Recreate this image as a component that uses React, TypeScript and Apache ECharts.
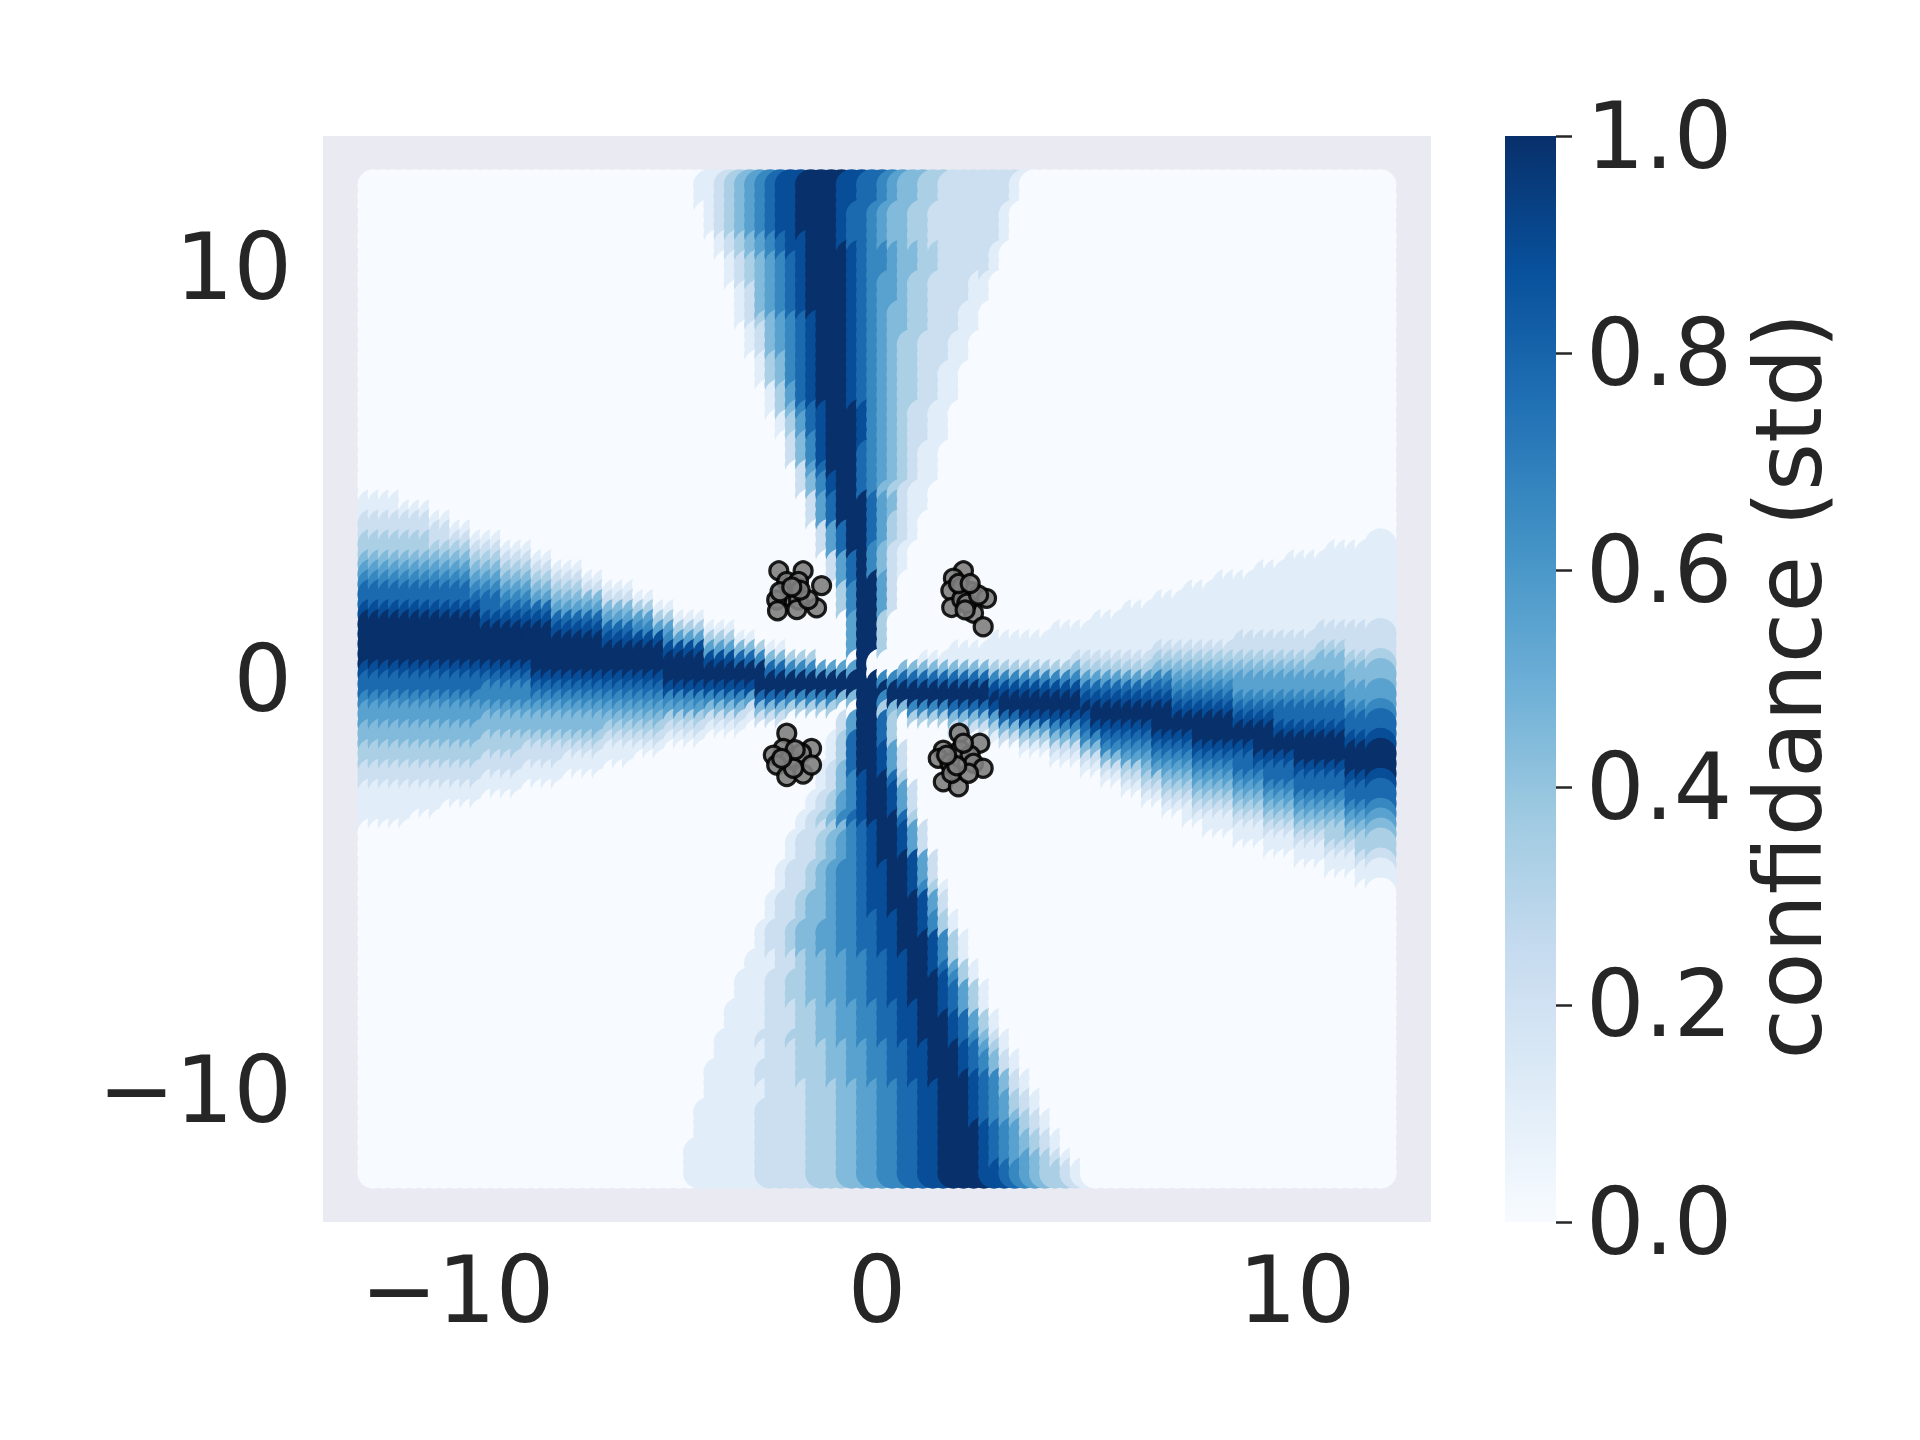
import React, { useEffect, useRef } from "react";
import * as echarts from "echarts";

// Sampling lattice of the confidence map (100 x 100 points)
const GRID_N = 100;
const GRID_MIN = -12;
const GRID_MAX = 12;
// visible overlap of drawn circles: value of a point shows one cell up-left
const OVERLAP_SHIFT = 1;

const X_TICKS = [-10, 0, 10];
const Y_TICKS = [-10, 0, 10];
const CBAR_MAX = 1;

// Blues colormap
const BLUES = ["#f7fbff", "#deebf7", "#c6dbef", "#9ecae1", "#6baed6", "#4292c6", "#2171b5", "#08519c", "#08306b"];

// Vertical band, one entry per row (top -> bottom): [first column, rising side, core, falling side]; levels 0..9
const V_ROWS: [number, string, string, string][] = [
  [32, "1123456788", "9999", "887765443322222221"],
  [32, "1123456788", "9999", "887765443322222221"],
  [33, "123456788", "9999", "87765443322222221"],
  [33, "123456788", "9999", "87765443322222221"],
  [33, "123456788", "9999", "87765443322222221"],
  [34, "123456788", "999", "87765443322222221"],
  [34, "123456788", "9999", "876654433222221"],
  [35, "12345678", "9999", "876654433222221"],
  [35, "12345678", "9999", "876654433222221"],
  [35, "12345678", "9999", "87655433222211"],
  [36, "1245678", "9999", "87655433222211"],
  [36, "1245678", "9999", "87655433222211"],
  [36, "1245678", "9999", "8765443322211"],
  [36, "12345678", "999", "8765443322211"],
  [37, "1245678", "999", "8765443322211"],
  [37, "1245678", "999", "876543322211"],
  [37, "1245678", "999", "876543322211"],
  [38, "134678", "999", "876543322211"],
  [38, "134678", "999", "87654332211"],
  [38, "134678", "999", "87654332211"],
  [39, "13578", "999", "87654332211"],
  [39, "13578", "999", "87654332211"],
  [39, "134678", "999", "865432211"],
  [40, "13578", "999", "865432211"],
  [40, "13578", "999", "865432211"],
  [41, "2468", "999", "865432211"],
  [41, "2468", "999", "76543211"],
  [41, "2468", "999", "76543211"],
  [42, "257", "999", "76543211"],
  [42, "2468", "99", "76543211"],
  [42, "2468", "99", "7643211"],
  [43, "257", "999", "754211"],
  [43, "257", "999", "754211"],
  [43, "257", "999", "75321"],
  [44, "257", "99", "75321"],
  [44, "257", "99", "75321"],
  [44, "257", "99", "6421"],
  [45, "257", "9", "6421"],
  [45, "257", "9", "6421"],
  [45, "257", "99", "52"],
  [46, "36", "99", "52"],
  [46, "36", "99", "52"],
  [46, "36", "99", "52"],
  [47, "5", "99", "3"],
  [47, "5", "99", "3"],
  [47, "5", "99", "3"],
  [47, "5", "99", "3"],
  [48, "", "9", ""],
  [48, "", "9", ""],
  [48, "", "99", ""],
  [48, "", "99", ""],
  [48, "", "99", ""],
  [48, "", "99", ""],
  [46, "25", "99", "73"],
  [46, "25", "99", "73"],
  [45, "137", "99", "73"],
  [45, "137", "99", "852"],
  [45, "137", "99", "852"],
  [44, "1247", "99", "852"],
  [44, "12468", "99", "73"],
  [44, "12468", "99", "852"],
  [43, "123568", "99", "852"],
  [43, "123568", "99", "852"],
  [42, "1234678", "999", "73"],
  [42, "12234678", "99", "852"],
  [41, "122345678", "99", "852"],
  [41, "122345678", "99", "852"],
  [41, "122345678", "999", "852"],
  [40, "12234566788", "99", "852"],
  [40, "12234566788", "99", "852"],
  [40, "12234566788", "99", "8631"],
  [39, "122344566788", "999", "852"],
  [39, "122344566788", "999", "852"],
  [39, "1223445667788", "99", "8631"],
  [38, "12234455667788", "99", "8631"],
  [38, "12234455667788", "999", "8631"],
  [38, "12234455667788", "999", "8631"],
  [37, "1112234455667788", "99", "8631"],
  [37, "1112234455667788", "99", "87531"],
  [36, "11122334455667788", "999", "8631"],
  [36, "11122334455667788", "999", "87531"],
  [36, "11122334455667788", "999", "87531"],
  [35, "1111222334455667788", "99", "87531"],
  [35, "1111222334455667788", "999", "87531"],
  [35, "1111222334455667788", "999", "87531"],
  [34, "11112223334455667788", "999", "876421"],
  [34, "111112223334455667788", "999", "87531"],
  [34, "111112223334455667788", "999", "876421"],
  [33, "1111122223334455667788", "999", "876421"],
  [33, "1111122223334455667788", "9999", "876421"],
  [33, "11111122223334455667788", "999", "876421"],
  [33, "11111122223334455667788", "999", "8765321"],
  [32, "111111222223334455667788", "999", "8765321"],
  [32, "111111222223334455667788", "999", "87654321"],
  [32, "111111222223334455667788", "9999", "8765321"],
  [32, "111111222223334455667788", "9999", "87654321"],
  [31, "1111111222223334455667788", "9999", "87654321"],
  [31, "1111111222223334455667788", "9999", "876554321"],
  [31, "1111111222223334455667788", "9999", "8876543321"],
  [31, "1111111222223334455667788", "9999", "88765543321"],
];

// Horizontal band, one entry per column (left -> right): [first row, pale plateau, rising side, core, falling side]
const H_COLS: [number, string, string, string, string][] = [
  [31, "", "112233456778", "99999", "8776554433221111"],
  [31, "", "112233456778", "99999", "8776554433221111"],
  [31, "", "112233456778", "99999", "8776554433221111"],
  [32, "", "12233456778", "99999", "8776554433221111"],
  [32, "", "12233456778", "99999", "877655443322111"],
  [32, "", "12233456778", "99999", "877655443322111"],
  [33, "", "1223456778", "99999", "877655443322111"],
  [33, "", "1223456778", "99999", "87765544332211"],
  [34, "", "123456778", "99999", "87765544332211"],
  [34, "", "123456778", "99999", "87765544332211"],
  [35, "", "12345678", "99999", "87765544332211"],
  [35, "", "123456778", "9999", "8766544332211"],
  [35, "", "123456778", "9999", "8766544332211"],
  [36, "", "12345678", "9999", "8766544332211"],
  [36, "", "12345678", "9999", "8766544332211"],
  [36, "", "12345678", "9999", "876654432211"],
  [37, "", "1234578", "99999", "87654432211"],
  [37, "", "1234578", "99999", "87654432211"],
  [38, "", "1234578", "9999", "87654432211"],
  [38, "", "1234578", "9999", "8765443211"],
  [38, "", "1234578", "9999", "8765443211"],
  [39, "", "124578", "9999", "8765443211"],
  [39, "", "124578", "9999", "8765443211"],
  [40, "", "124578", "999", "876543211"],
  [40, "", "124578", "999", "876543211"],
  [40, "", "124578", "999", "876543211"],
  [41, "", "13568", "999", "87654321"],
  [41, "", "13568", "999", "87654321"],
  [42, "", "1358", "999", "87654321"],
  [42, "", "13568", "999", "865321"],
  [43, "", "1358", "999", "865321"],
  [43, "", "1358", "999", "865321"],
  [43, "", "1358", "999", "865321"],
  [44, "", "1358", "99", "86421"],
  [44, "", "1358", "99", "86421"],
  [44, "", "1358", "99", "86421"],
  [45, "", "147", "99", "86421"],
  [45, "", "147", "99", "8521"],
  [46, "", "36", "999", "742"],
  [46, "", "147", "99", "742"],
  [46, "", "147", "99", "742"],
  [47, "", "36", "99", "63"],
  [47, "", "36", "99", "63"],
  [47, "", "36", "99", "63"],
  [48, "", "5", "99", "63"],
  [48, "", "5", "99", "63"],
  [48, "", "5", "99", "4"],
  [48, "", "5", "99", "4"],
  [49, "", "", "999", ""],
  [50, "", "", "99", ""],
  [49, "", "6", "9", "63"],
  [49, "", "6", "99", "4"],
  [48, "", "47", "99", "4"],
  [48, "", "47", "99", "63"],
  [47, "1", "47", "99", "63"],
  [47, "1", "47", "99", "63"],
  [47, "1", "47", "99", "63"],
  [46, "11", "47", "99", "742"],
  [46, "11", "47", "99", "742"],
  [46, "11", "47", "99", "742"],
  [46, "11", "47", "99", "742"],
  [45, "111", "368", "9", "8531"],
  [45, "111", "368", "99", "742"],
  [45, "111", "368", "99", "742"],
  [45, "111", "368", "99", "8531"],
  [45, "111", "368", "99", "8531"],
  [45, "111", "368", "99", "8531"],
  [44, "1111", "368", "99", "86421"],
  [44, "1111", "368", "99", "86421"],
  [44, "111", "2468", "99", "86421"],
  [44, "111", "23578", "9", "876421"],
  [43, "1111", "23578", "99", "86421"],
  [43, "1111", "23578", "99", "876421"],
  [43, "1111", "23578", "99", "876421"],
  [42, "11111", "23578", "99", "8765321"],
  [42, "11111", "23578", "99", "8765321"],
  [42, "11111", "23578", "99", "87654321"],
  [41, "11111", "234678", "999", "8765321"],
  [41, "11111", "234678", "999", "87654321"],
  [41, "11111", "2345678", "99", "87654321"],
  [40, "111111", "2345678", "99", "876543211"],
  [40, "111111", "2345678", "999", "87654321"],
  [40, "111111", "2345678", "999", "876543211"],
  [39, "1111111", "2345678", "999", "876543211"],
  [39, "1111111", "2345678", "999", "876543211"],
  [39, "111111", "223455678", "99", "8776543211"],
  [39, "111111", "223455678", "99", "8776543211"],
  [38, "1111111", "223455678", "999", "876543211"],
  [38, "1111111", "223455678", "999", "8776543211"],
  [38, "1111111", "2234556778", "99", "8776543211"],
  [37, "11111111", "2234556778", "99", "8776543211"],
  [37, "11111111", "2234556778", "999", "8776543211"],
  [37, "11111111", "2234556778", "999", "8776543211"],
  [37, "1111111", "22344556778", "999", "8776543211"],
  [36, "11111111", "22344556778", "999", "87765433211"],
  [36, "11111111", "22344556778", "999", "87765433211"],
  [36, "11111111", "222344556778", "999", "8776543211"],
  [36, "11111111", "222344556778", "999", "87765433211"],
  [35, "111111111", "222344556778", "999", "87765433211"],
  [35, "111111111", "222344556778", "999", "87765433211"],
];

// Training points (four clusters)
const TRAIN_X = [
  -2.34, -1.76, -1.32, -2.15, -1.87, -2.07, -1.87, -2.39, -1.44, -2.37, -1.91, -1.64, -2.31, -1.83, -2.03,
  2.06, 1.82, 1.76, 2.02, 2.26, 2.61, 1.78, 2.02, 2.3, 2.53, 2.14, 2.42, 1.94, 2.22, 2.1,
  -2.15, -1.56, -2.23, -2.47, -2.07, -1.8, -2.39, -2.15, -1.76, -1.99, -1.56, -1.95, -2.27,
  1.96, 2.45, 1.58, 1.98, 2.22, 1.46, 1.74, 2.3, 2.53, 1.58, 1.94, 1.78, 2.18, 2.06, 1.9, 1.66,
];
const TRAIN_Y = [
  2.63, 2.63, 2.27, 2.37, 2.37, 2.0, 1.92, 1.92, 1.73, 1.66, 1.69, 1.93, 2.12, 2.16, 2.24,
  2.63, 2.45, 2.15, 2.24, 2.12, 1.96, 1.74, 1.94, 1.6, 1.27, 1.84, 2.04, 2.32, 2.32, 1.68,
  -1.32, -1.69, -1.69, -1.85, -1.93, -1.8, -2.09, -2.37, -2.31, -2.17, -2.09, -1.72, -1.93,
  -1.32, -1.56, -1.73, -1.73, -1.85, -1.93, -2.05, -2.05, -2.17, -2.5, -2.62, -2.29, -2.29, -1.56, -2.11, -1.85,
];

const TEXT_COLOR = "#262626";
const FONT = "DejaVu Sans";
const FS = 92;

function levelAt(vi: number, vj: number): number {
  let v = 0;
  const row = V_ROWS[vj];
  if (row) {
    const s = row[1] + row[2] + row[3];
    const k = vi - row[0];
    if (k >= 0 && k < s.length) v = Number(s[k]);
  }
  const col = H_COLS[vi];
  if (col) {
    const s = col[1] + col[2] + col[3] + col[4];
    const k = vj - col[0];
    if (k >= 0 && k < s.length) v = Math.max(v, Number(s[k]));
  }
  return v;
}

// drawn column by column (left -> right), each column top -> bottom
function buildField(): number[][] {
  const step = (GRID_MAX - GRID_MIN) / (GRID_N - 1);
  const out: number[][] = [];
  for (let i = 0; i < GRID_N; i++) {
    const x = GRID_MIN + i * step;
    for (let j = 0; j < GRID_N; j++) {
      const y = GRID_MAX - j * step;
      const vi = Math.max(0, i - OVERLAP_SHIFT);
      const vj = Math.max(0, j - OVERLAP_SHIFT);
      out.push([x, y, levelAt(vi, vj) / 9]);
    }
  }
  return out;
}

const fmtTick = (v: number) => (v < 0 ? "\u2212" + Math.abs(v) : String(v));

export default function App() {
  const ref = useRef<HTMLDivElement>(null);
  useEffect(() => {
    document.body.style.margin = "0";
    if (!ref.current) return;
    const chart = echarts.init(ref.current, undefined, { renderer: "svg" });
    const field = buildField();
    const train = TRAIN_X.map((x, k) => [x, TRAIN_Y[k]]);
    const gradStops = BLUES.map((c, k) => ({ offset: 1 - k / (BLUES.length - 1), color: c })).reverse();
    const labelStyle = { fontSize: FS, color: TEXT_COLOR, fontFamily: FONT };
    chart.setOption({
      animation: false,
      backgroundColor: "#ffffff",
      grid: [
        { left: 323, top: 136, width: 1108, height: 1086, show: true, backgroundColor: "#eaeaf2", borderWidth: 0 },
        { left: 1505, top: 136, width: 51, height: 1086, show: false },
      ],
      xAxis: [
        {
          gridIndex: 0, type: "value", min: -13.2, max: 13.2,
          axisLine: { show: false, onZero: false }, axisTick: { show: false }, splitLine: { show: false },
          axisLabel: { ...labelStyle, customValues: X_TICKS, formatter: fmtTick, margin: 22 },
        },
        { gridIndex: 1, type: "value", min: 0, max: 1, show: false, axisLine: { onZero: false } },
      ],
      yAxis: [
        {
          gridIndex: 0, type: "value", min: -13.2, max: 13.2,
          axisLine: { show: false, onZero: false }, axisTick: { show: false }, splitLine: { show: false },
          axisLabel: { ...labelStyle, customValues: Y_TICKS, formatter: fmtTick, margin: 31 },
        },
        {
          gridIndex: 1, type: "value", min: 0, max: CBAR_MAX, interval: 0.2, position: "right",
          axisLine: { show: false, onZero: false }, splitLine: { show: false },
          axisTick: { show: true, inside: false, length: 16, lineStyle: { color: TEXT_COLOR, width: 2.5 } },
          axisLabel: { ...labelStyle, formatter: (v: number) => v.toFixed(1), margin: 30, showMinLabel: true, showMaxLabel: true },
        },
      ],
      visualMap: {
        show: false, type: "continuous", min: 0, max: 1, dimension: 2, seriesIndex: 0,
        inRange: { color: BLUES },
      },
      series: [
        {
          type: "scatter", xAxisIndex: 0, yAxisIndex: 0, data: field, symbol: "circle", symbolSize: 32,
          progressive: 0, silent: true, itemStyle: { opacity: 1 }, z: 2,
        },
        {
          type: "scatter", xAxisIndex: 0, yAxisIndex: 0, data: train, symbol: "circle", symbolSize: 18,
          progressive: 0, silent: true, z: 3,
          itemStyle: { color: "rgba(128,128,128,0.9)", borderColor: "rgba(0,0,0,0.88)", borderWidth: 3.2, opacity: 1 },
        },
        { type: "scatter", xAxisIndex: 1, yAxisIndex: 1, data: [] },
      ],
      graphic: [
        {
          type: "rect", silent: true, z: 0,
          shape: { x: 1505, y: 136, width: 51, height: 1086 },
          style: { fill: new echarts.graphic.LinearGradient(0, 0, 0, 1, gradStops) },
        },
        {
          type: "text", x: 1789, y: 686, rotation: Math.PI / 2, silent: true,
          style: {
            text: "confidance (std)", fontSize: FS, fontFamily: FONT, fill: TEXT_COLOR,
            align: "center", verticalAlign: "middle", textAlign: "center", textVerticalAlign: "middle",
          },
        },
      ],
    });
    return () => chart.dispose();
  }, []);
  return <div ref={ref} style={{ width: 1920, height: 1440 }} />;
}
